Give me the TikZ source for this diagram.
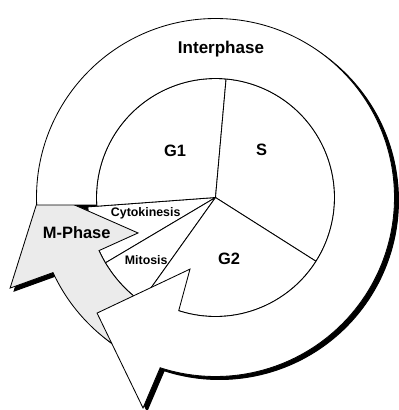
\documentclass[tikz,border=0pt]{standalone}
\usepackage{fontspec}
\setmainfont{Liberation Sans}
\definecolor{mgray}{gray}{0.92}
\newcommand{\interpath}{(182.4:179) arc[start angle=182.4,end angle=-108,radius=179] -- (-109:222.6) -- (-135.7:165.5) -- (-109.6:76) -- (-108:119) arc[start angle=-108,end angle=183.6,radius=119] -- cycle}
\newcommand{\mphasepath}{(250:179) arc[start angle=250,end angle=204.8,radius=179] -- (203.8:224.5) -- (177.6:174.7) -- (204.6:85.2) -- (204.5:128) arc[start angle=204.5,end angle=250,radius=128] -- cycle}
\tikzset{
	outline/.style={draw=black,line width=0.6pt,line join=miter},
	dropshadow/.style={fill=black,draw=black,line width=0.7pt,shift={(4,-3)}},
	phase/.style={font=\bfseries\fontsize{11.7}{14}\selectfont},
	subphase/.style={font=\bfseries\fontsize{8.8}{10}\selectfont}
}

\begin{document}
\begin{tikzpicture}[x=0.025cm,y=0.025cm]
\useasboundingbox (-215.5,-212.5) rectangle (183.5,197.5);
\fill[dropshadow] \interpath;
\fill[dropshadow] \mphasepath;
\fill (-150,-5) -- (-125,-5) -- (-127,-13) -- cycle;
\foreach \a/\b in {184.2/210.7,210.7/234.5}
	\filldraw[outline,fill=white] (0,0) -- (\a:128) arc[start angle=\a,end angle=\b,radius=128] -- cycle;
\filldraw[outline,fill=mgray] \mphasepath;
\foreach \a/\b in {84.9/184.2,-32.4/84.9,234.5/327.6}
	\filldraw[outline,fill=white] (0,0) -- (\a:119) arc[start angle=\a,end angle=\b,radius=119] -- cycle;
\filldraw[outline,fill=white] \interpath;
\node[phase,font=\bfseries\fontsize{12.1}{14}\selectfont] (interphase) at (5.5,148.5) {Interphase};
\node[phase] (g1) at (-40.5,46.5) {G1};
\node[phase] (s) at (46,47.5) {S};
\node[phase] (g2) at (13.5,-61) {G2};
\node[phase] (mphase) at (-138.8,-35.5) {M-Phase};
\node[subphase] (cyto) at (-69.8,-15.5) {Cytokinesis};
\node[subphase] (mito) at (-69.3,-62.5) {Mitosis};
\end{tikzpicture}
\end{document}
